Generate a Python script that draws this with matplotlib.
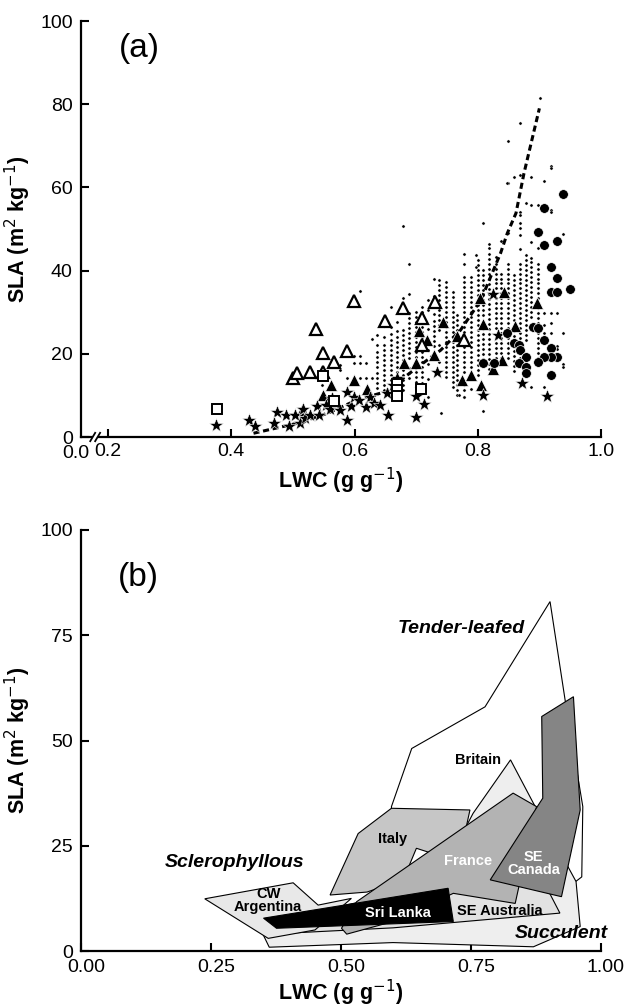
import matplotlib
matplotlib.use("Agg")
import matplotlib.pyplot as plt
from matplotlib.patches import Polygon
from matplotlib.transforms import ScaledTranslation

plt.rcParams['font.family'] = ['Liberation Sans', 'DejaVu Sans']

# ---------------- Panel (a) data ----------------
curve_x = [0.436, 0.507, 0.556, 0.604, 0.653, 0.667, 0.707, 0.740, 0.772, 0.805, 0.837, 0.848, 0.862, 0.875, 0.900]
curve_y = [0.9, 3.3, 5.7, 8.9, 11.0, 12.8, 17.3, 20.9, 25.7, 32.9, 44.2, 49.0, 53.8, 63.4, 79.0]

dot_columns = [
    (0.637, [24.5, 22.1, 20.5, 19.2, 18.0, 16.8, 15.5, 14.3, 13.0, 11.8]),
    (0.648, [26.8, 24.0, 22.0, 20.8, 19.6, 18.4, 17.2, 16.0, 14.8, 13.6, 12.4, 11.2]),
    (0.659, [31.3, 26.5, 24.8, 23.3, 22.1, 20.9, 19.7, 18.5, 17.3, 16.1, 14.9, 13.7, 12.5]),
    (0.669, [27.7, 25.5, 24.0, 22.8, 21.6, 20.4, 19.2, 18.0, 16.8, 15.6, 14.2]),
    (0.678, [33.5, 25.7, 24.5, 23.3, 22.1, 20.9, 19.7, 18.5, 17.3, 16.1, 14.9, 13.7, 12.5, 11.3]),
    (0.688, [41.6, 34.4, 29.7, 28.5, 27.3, 26.1, 24.9, 23.7, 22.5, 21.3, 20.1, 18.9, 16.5, 15.3, 14.1]),
    (0.699, [30.1, 28.9, 27.7, 26.5, 25.3, 24.1, 22.9, 21.7, 20.5, 19.3, 18.1, 16.9, 15.7, 14.5, 13.3, 12.1]),
    (0.710, [31.3, 30.1, 28.9, 27.7, 26.5, 25.3, 24.1, 22.9, 21.7, 20.5, 19.3, 18.1, 16.9, 15.7, 14.5, 12.9]),
    (0.720, [33.0, 30.5, 26.0, 21.0, 17.5, 14.0, 9.5]),
    (0.729, [38.1, 34.0, 31.5, 29.5, 27.9, 26.7, 25.5, 24.3, 23.1, 21.9]),
    (0.737, [37.7, 36.5, 35.3, 34.1, 32.9, 31.7, 30.5, 29.3, 28.1, 26.9, 25.7, 22.0, 18.0]),
    (0.748, [37.3, 36.1, 34.9, 33.7, 32.5, 31.3, 30.1, 28.9, 27.7, 26.5, 25.3, 24.1, 22.9, 21.7, 20.5, 19.3, 18.1, 16.9, 15.7, 14.5]),
    (0.759, [34.9, 33.7, 32.5, 31.3, 30.1, 28.9, 27.7, 26.5, 25.3, 24.1, 22.9, 21.7, 20.5, 19.3, 18.1, 16.9, 15.7, 14.5, 13.3, 12.1]),
    (0.767, [29.3, 28.1, 26.9, 25.7, 22.0, 20.8, 19.6, 18.4, 17.2, 16.0, 14.8, 13.6, 12.4, 11.2, 10.1]),
    (0.778, [44.0, 41.6, 38.5, 37.3, 36.1, 34.9, 33.7, 32.5, 31.3, 30.1, 28.9, 27.7, 26.5, 25.3, 24.1, 22.9, 21.7, 20.5, 19.3, 18.1, 16.9, 15.7, 12.5, 11.3, 9.7]),
    (0.789, [38.5, 37.3, 36.1, 34.9, 33.7, 32.5, 31.3, 30.1, 28.9, 27.7, 26.5, 25.3, 24.1, 22.9, 21.7, 20.5, 19.3, 18.1, 16.9, 11.5]),
    (0.797, [43.8, 40.9]),
    (0.800, [42.5, 41.3, 40.1, 38.9, 37.7, 36.5, 35.3, 34.1, 31.7, 30.5, 29.3, 28.1, 26.9, 25.7, 24.5, 23.3, 22.1, 20.9, 19.7, 18.5, 17.3, 16.1, 14.9]),
    (0.808, [51.4, 40.1, 38.9, 37.7, 36.5, 35.3, 34.1, 32.9, 31.7, 30.5, 29.3, 26.0, 24.8, 23.6, 22.4, 21.2, 20.0, 18.8, 17.6, 6.3]),
    (0.819, [46.3, 45.4, 44.0, 42.8, 41.6, 40.4, 39.2, 38.0, 36.8, 35.6, 34.4, 33.2, 32.0, 30.8, 29.6, 28.4, 27.2, 26.0, 24.8, 23.6, 22.4, 21.2, 20.0, 18.8, 17.6, 16.4]),
    (0.830, [43.2, 41.7, 40.5, 39.3, 38.1, 36.9, 35.7, 33.3, 32.1, 30.9, 29.7, 28.5, 27.3, 26.1, 23.7, 22.5, 21.3, 20.1, 18.9, 17.7]),
    (0.838, [47.1, 39.3, 38.1, 36.9, 35.7, 34.5, 33.3, 32.1, 30.9, 29.7, 28.5, 27.3, 26.1, 24.9, 23.7, 22.5, 21.3, 20.1, 18.9, 17.7]),
    (0.849, [71.2, 61.1, 49.0, 41.7, 40.5, 39.3, 38.1, 36.9, 35.7, 34.5, 33.3, 32.1, 30.9, 29.7, 28.5, 27.3, 26.1, 24.9, 23.7, 22.5, 21.3, 20.1, 18.9]),
    (0.859, [62.6, 38.9, 37.7, 36.5, 35.3, 34.1, 32.9, 31.7, 30.5, 29.3, 28.1, 25.5, 24.3, 23.1, 21.9, 20.7, 19.5, 18.3, 17.1, 15.9]),
    (0.868, [75.6, 63.0, 54.2, 53.4, 51.4, 50.2, 48.6, 45.1, 41.7, 40.5, 39.3, 38.1, 36.9, 35.7, 34.5, 33.3, 32.1, 30.9, 29.7, 28.5, 27.3, 26.1, 24.9, 23.7, 22.5, 21.3, 20.1, 18.9, 17.7]),
    (0.878, [56.2, 43.8, 42.5, 41.3, 40.1, 38.9, 37.7, 36.5, 35.3, 34.1, 32.9, 31.7, 30.5, 29.3, 28.1, 26.9, 25.7, 24.5, 23.3]),
    (0.887, [62.6, 55.8, 46.9, 43.0, 42.0, 40.9, 39.7, 38.5, 37.3, 36.1, 34.9, 33.7, 32.5, 31.3, 30.1, 28.9, 12.1]),
    (0.898, [55.8, 45.4, 41.7, 40.5, 39.3, 38.1, 36.9, 35.7, 34.5, 33.3, 30.9, 29.7, 28.5, 27.3, 26.1, 24.9, 23.7, 22.5, 21.3, 20.1, 18.9, 17.7]),
    (0.901, [81.6]),
    (0.908, [61.6, 29.7, 27.0, 25.0, 12.1]),
    (0.919, [65.1, 64.6, 54.6, 54.1, 29.7, 27.5, 25.0]),
    (0.928, [29.7, 21.9, 21.1, 19.0]),
    (0.939, [48.8, 24.9, 17.5, 16.8]),
]
extra_dot_x = [0.679, 0.609, 0.629, 0.599, 0.609, 0.599, 0.609, 0.618, 0.577, 0.577, 0.588, 0.609, 0.618, 0.628, 0.547, 0.740, 0.769, 0.778, 0.847]
extra_dot_y = [50.7, 35.2, 23.5, 19.5, 19.5, 17.9, 17.9, 17.9, 17.3, 16.1, 14.3, 14.1, 14.1, 14.3, 12.5, 5.7, 10.1, 9.5, 61.1]

tri_filled_x = [0.515, 0.549, 0.562, 0.599, 0.621, 0.681, 0.699, 0.705, 0.718, 0.729, 0.743, 0.767, 0.775, 0.789, 0.805, 0.804, 0.808, 0.824, 0.840, 0.843, 0.860, 0.896]
tri_filled_y = [6.5, 10.1, 12.5, 13.6, 11.6, 17.9, 17.9, 25.6, 23.3, 19.6, 27.6, 24.3, 13.7, 14.9, 12.6, 33.3, 27.2, 16.4, 18.5, 34.9, 26.7, 32.3]

tri_open_x = [0.500, 0.507, 0.528, 0.538, 0.549, 0.549, 0.567, 0.588, 0.599, 0.649, 0.679, 0.710, 0.731, 0.710, 0.777]
tri_open_y = [14.3, 15.3, 15.7, 26.0, 20.1, 15.7, 18.0, 20.7, 32.8, 28.0, 31.0, 28.5, 32.4, 22.0, 23.3]

star_x = [0.375, 0.428, 0.439, 0.474, 0.469, 0.488, 0.493, 0.503, 0.511, 0.517, 0.520, 0.527, 0.539, 0.542, 0.553, 0.560,
          0.564, 0.577, 0.587, 0.588, 0.595, 0.599, 0.607, 0.618, 0.625, 0.631, 0.642, 0.655, 0.652, 0.663, 0.669,
          0.699, 0.700, 0.713, 0.734, 0.809, 0.825, 0.833, 0.871, 0.913]
star_y = [2.9, 4.0, 2.7, 6.0, 3.3, 5.3, 2.6, 5.3, 3.4, 6.7, 4.5, 5.2, 7.5, 5.3, 7.7, 6.8,
          9.3, 6.5, 4.2, 10.9, 7.5, 9.7, 9.0, 7.3, 9.5, 8.1, 7.7, 5.2, 10.5, 12.5, 14.3,
          4.8, 9.8, 7.9, 15.7, 10.0, 34.4, 24.4, 12.9, 9.8]

square_x = [0.377, 0.549, 0.567, 0.669, 0.669, 0.669, 0.708]
square_y = [6.7, 14.7, 8.7, 12.7, 11.3, 9.9, 11.6]

circle_x = [0.938, 0.908, 0.898, 0.908, 0.928, 0.919, 0.928, 0.919, 0.928, 0.949, 0.889, 0.898, 0.847, 0.858, 0.867,
            0.869, 0.908, 0.919, 0.928, 0.919, 0.908, 0.878, 0.898, 0.867, 0.878, 0.826, 0.809, 0.878, 0.919]
circle_y = [58.4, 55.1, 49.2, 46.2, 47.1, 40.9, 38.3, 34.9, 34.8, 35.5, 26.5, 26.1, 24.9, 22.5, 22.1,
            20.9, 23.3, 21.3, 19.3, 19.3, 19.3, 19.3, 18.1, 17.7, 16.9, 17.7, 17.9, 15.3, 14.9]

xa_ticks = [0.2, 0.4, 0.6, 0.8, 1.0]
xa_ticklabels = ['0.2', '0.4', '0.6', '0.8', '1.0']
ya_ticks = [0, 20, 40, 60, 80, 100]

# ---------------- Panel (b) data ----------------
tender_leafed = [(0.597, 34.3), (0.636, 48.1), (0.777, 58.0), (0.902, 83.0), (0.931, 59.6), (0.965, 34.3),
                 (0.963, 17.6), (0.947, 16.1), (0.93, 6.0), (0.597, 4.0)]
britain = [(0.362, 0.9), (0.60, 2.0), (0.87, 1.0), (0.96, 5.8), (0.952, 16.5), (0.87, 35.1), (0.826, 45.4),
           (0.754, 32.7), (0.70, 20.0), (0.45, 5.5), (0.338, 7.0)]
se_australia = [(0.36, 4.0), (0.60, 5.5), (0.921, 9.0), (0.90, 14.0), (0.80, 18.0), (0.55, 12.0), (0.40, 8.0)]
cw_argentina = [(0.238, 12.4), (0.408, 16.2), (0.456, 10.9), (0.52, 12.5), (0.45, 5.0), (0.36, 3.0)]
italy = [(0.479, 13.3), (0.533, 27.9), (0.597, 33.9), (0.748, 33.5), (0.74, 29.0), (0.68, 23.0),
         (0.645, 24.4), (0.62, 17.0), (0.55, 14.0)]
france = [(0.511, 4.0), (0.501, 5.4), (0.530, 11.7), (0.831, 37.5), (0.876, 34.3), (0.835, 11.3), (0.716, 13.7), (0.60, 7.0)]
se_canada = [(0.947, 60.4), (0.886, 55.7), (0.888, 36.3), (0.787, 16.9), (0.924, 12.9), (0.960, 33.5)]
sri_lanka = [(0.351, 7.8), (0.706, 14.9), (0.716, 7.0), (0.376, 5.4)]

region_polys = [tender_leafed, britain, se_australia, cw_argentina, italy, france, se_canada, sri_lanka]
region_fills = ['white', '#eeeeee', '#e2e2e2', '#e8e8e8', '#c6c6c6', '#b3b3b3', '#858585', 'black']

region_labels = ['Britain', 'Italy', 'France', 'SE\nCanada', 'CW\nArgentina', 'Sri Lanka', 'SE Australia']
label_x = [0.764, 0.599, 0.745, 0.870, 0.360, 0.610, 0.806]
label_y = [45.4, 26.5, 21.4, 20.7, 12.1, 9.1, 9.6]
label_colors = ['black', 'black', 'white', 'white', 'black', 'white', 'black']

type_labels = ['Tender-leafed', 'Sclerophyllous', 'Succulent']
type_x = [0.732, 0.296, 0.924]
type_y = [76.6, 21.1, 4.2]

xb_ticks = [0, 0.25, 0.5, 0.75, 1.0]
xb_ticklabels = ['0.00', '0.25', '0.50', '0.75', '1.00']
yb_ticks = [0, 25, 50, 75, 100]

# ---------------- Figure ----------------
fig = plt.figure(figsize=(6.27, 10.08), dpi=100)
axa = fig.add_axes([81 / 627, 1 - 437 / 1008, 520 / 627, 416 / 1008])
axb = fig.add_axes([81 / 627, 1 - 951 / 1008, 520 / 627, 421 / 1008])

TICK_FS = 14
LAB_FS = 15.5
PANEL_FS = 24
XPAD_A = 4.5
XPAD_B = 6.0

def style(ax, xpad):
    for s in ['top', 'right']:
        ax.spines[s].set_visible(False)
    for s in ['left', 'bottom']:
        ax.spines[s].set_linewidth(1.6)
    ax.tick_params(direction='in', length=6, width=1.5, labelsize=TICK_FS)
    ax.tick_params(axis='x', pad=xpad)
    ax.tick_params(axis='y', pad=6)

# Panel (a)
style(axa, XPAD_A)
axa.set_xlim(0.156, 1.0)
axa.set_ylim(0, 100)
axa.set_xticks(xa_ticks)
axa.set_xticklabels(xa_ticklabels)
axa.set_yticks(ya_ticks)
axa.annotate('0.0', xy=(0.156, 0), xycoords='data', xytext=(-3.5, -XPAD_A - 1.5), textcoords='offset points',
             ha='center', va='top', fontsize=TICK_FS)

for cx, ys in dot_columns:
    axa.plot([cx] * len(ys), ys, 'o', color='black', ms=2.3, mec='white', mew=0.3, zorder=2, clip_on=False)
axa.plot(extra_dot_x, extra_dot_y, 'o', color='black', ms=2.3, mec='white', mew=0.3, zorder=2)

axa.plot(curve_x, curve_y, color='black', lw=2.2, dashes=(2.0, 1.2), zorder=3)

axa.plot(tri_filled_x, tri_filled_y, '^', color='black', ms=8.5, mec='white', mew=0.5, zorder=4)
axa.plot(tri_open_x, tri_open_y, '^', mfc='white', mec='black', ms=8.5, mew=1.6, zorder=4)
axa.plot(star_x, star_y, '*', color='black', ms=10.5, mec='white', mew=0.4, zorder=4)
axa.plot(square_x, square_y, 's', mfc='white', mec='black', ms=6.5, mew=1.4, zorder=4)
axa.plot(circle_x, circle_y, 'o', color='black', ms=7, mec='white', mew=0.5, zorder=4)

axa.text(0.25, 93.5, '(a)', fontsize=PANEL_FS, ha='center', va='center')
axa.set_xlabel('LWC (g g$^{-1}$)', fontsize=LAB_FS, fontweight='bold', labelpad=4)
axa.set_ylabel('SLA (m$^{2}$ kg$^{-1}$)', fontsize=LAB_FS, fontweight='bold', labelpad=5)

# axis break marks
bx = 0.179
axa.add_patch(plt.Rectangle((bx - 0.004, -1.5), 0.008, 3.0, transform=axa.transData,
                            facecolor='white', edgecolor='none', clip_on=False, zorder=10))
for off in (-0.004, 0.004):
    axa.plot([bx + off - 0.004, bx + off + 0.004], [-1.0, 1.0], color='black', lw=1.3,
             clip_on=False, zorder=11)

# Panel (b)
style(axb, XPAD_B)
axb.set_xlim(0, 1.0)
axb.set_ylim(0, 100)
axb.set_xticks(xb_ticks)
axb.set_xticklabels(xb_ticklabels)
axb.set_yticks(yb_ticks)
shift = ScaledTranslation(5 / 100, 0, fig.dpi_scale_trans)
for lab in axb.get_xticklabels():
    lab.set_transform(lab.get_transform() + shift)

for i, (poly, fc) in enumerate(zip(region_polys, region_fills)):
    axb.add_patch(Polygon(poly, closed=True, facecolor=fc, edgecolor='black', lw=0.8, zorder=2 + i))

for t, x, y, c in zip(region_labels, label_x, label_y, label_colors):
    axb.text(x, y, t, fontsize=10.5, fontweight='bold', color=c, ha='center', va='center',
             linespacing=0.9, zorder=20)
for t, x, y in zip(type_labels, type_x, type_y):
    axb.text(x, y, t, fontsize=14, fontweight='bold', style='italic', ha='center', va='center', zorder=20)

axb.text(0.111, 88.8, '(b)', fontsize=PANEL_FS, ha='center', va='center')
axb.set_xlabel('LWC (g g$^{-1}$)', fontsize=LAB_FS, fontweight='bold', labelpad=1)
axb.set_ylabel('SLA (m$^{2}$ kg$^{-1}$)', fontsize=LAB_FS, fontweight='bold', labelpad=5)

fig.savefig('out.png', dpi=100)
